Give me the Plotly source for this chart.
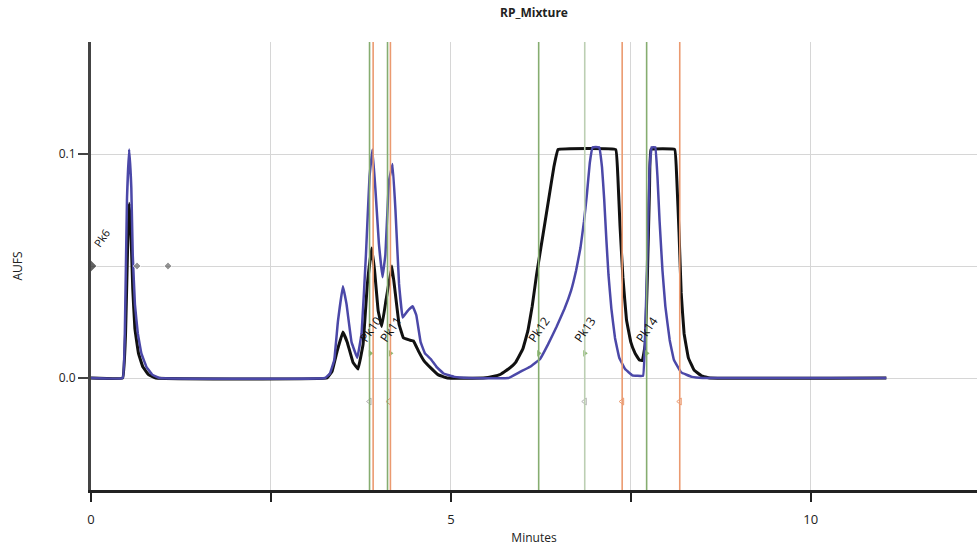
import plotly.graph_objects as go

# Chromatogram traces: retention time (min) vs absorbance (AUFS)
blue_t = [0, 0.44, 0.47, 0.50, 0.53, 0.56, 0.58, 0.61, 0.65, 0.70, 0.77, 0.85, 0.95,
          3.25, 3.32, 3.38, 3.43, 3.50, 3.55, 3.62, 3.70, 3.76, 3.82, 3.87, 3.91, 3.95,
          4.00, 4.05, 4.09, 4.14, 4.19, 4.23, 4.28, 4.33, 4.40, 4.47, 4.52, 4.58, 4.64,
          4.72, 4.80, 4.90, 5.05, 5.25,
          5.80, 5.96, 6.10, 6.24, 6.35, 6.47, 6.58, 6.67, 6.74, 6.80, 6.85, 6.89, 6.93,
          6.97, 7.06, 7.10, 7.13, 7.16, 7.19, 7.23, 7.28, 7.34, 7.42, 7.52, 7.67, 7.70,
          7.73, 7.76, 7.79, 7.84, 7.87, 7.90, 7.94, 7.98, 8.04, 8.10, 8.20, 8.35, 8.5, 11.05]
blue_au = [0, 0, 0.02, 0.08, 0.102, 0.085, 0.055, 0.033, 0.02, 0.011, 0.005, 0.0015, 0,
           0, 0.002, 0.008, 0.025, 0.041, 0.033, 0.016, 0.009, 0.02, 0.055, 0.09, 0.102, 0.085,
           0.06, 0.045, 0.055, 0.088, 0.0955, 0.075, 0.042, 0.027, 0.03, 0.032, 0.028, 0.016, 0.011,
           0.0085, 0.005, 0.002, 0.0005, 0,
           0, 0.0027, 0.005, 0.0085, 0.015, 0.023, 0.031, 0.039, 0.048, 0.058, 0.07, 0.082, 0.096,
           0.103, 0.103, 0.094, 0.08, 0.062, 0.046, 0.031, 0.018, 0.009, 0.004, 0.0012, 0.001, 0.02,
           0.055, 0.093, 0.103, 0.103, 0.09, 0.07, 0.048, 0.032, 0.017, 0.008, 0.0025, 0.0005, 0, 0]

black_t = [0, 0.44, 0.48, 0.51, 0.53, 0.555, 0.58, 0.61, 0.66, 0.72, 0.80, 0.9,
           3.28, 3.35, 3.42, 3.50, 3.56, 3.64, 3.71, 3.78, 3.84, 3.90, 3.94, 3.99, 4.04,
           4.10, 4.18, 4.22, 4.28, 4.34, 4.42, 4.48, 4.55, 4.63, 4.72, 4.82, 4.95,
           5.45, 5.60, 5.68, 5.80, 5.90, 6.00, 6.07, 6.13, 6.19, 6.25, 6.31, 6.37, 6.43,
           6.49, 7.29, 7.32, 7.35, 7.39, 7.44, 7.50, 7.56, 7.62, 7.66, 7.70, 7.73, 7.76,
           7.78, 8.11, 8.14, 8.17, 8.20, 8.24, 8.30, 8.38, 8.48, 8.6, 11.05]
black_au = [0, 0, 0.02, 0.06, 0.078, 0.065, 0.04, 0.022, 0.011, 0.005, 0.0015, 0,
            0, 0.003, 0.012, 0.0205, 0.016, 0.007, 0.004, 0.015, 0.042, 0.058, 0.048, 0.03, 0.023,
            0.035, 0.05, 0.04, 0.024, 0.018, 0.017, 0.0165, 0.012, 0.0075, 0.0045, 0.0015, 0,
            0, 0.0008, 0.0015, 0.004, 0.007, 0.013, 0.021, 0.032, 0.046, 0.058, 0.07, 0.082, 0.094,
            0.102, 0.102, 0.09, 0.068, 0.045, 0.026, 0.016, 0.011, 0.008, 0.0078, 0.015, 0.045, 0.085,
            0.102, 0.102, 0.088, 0.065, 0.038, 0.02, 0.009, 0.0035, 0.001, 0, 0]

# Fraction collection markers (minutes)
frac_start = [3.87, 4.12, 6.22, 7.72]
frac_end = [3.92, 4.16, 7.38, 8.18]
frac_mid = [6.86]

# Peak labels
peak_names = ["Pk10", "Pk11", "Pk12", "Pk13", "Pk14"]
peak_t = [3.88, 4.16, 6.22, 6.86, 7.72]
peak_au = [0.011, 0.011, 0.011, 0.011, 0.011]

start_tick_t = [3.87, 6.86]
end_tick_t = [4.14, 7.38, 8.18]
tick_au = -0.0105

early_pk_name = "Pk6"
early_mark_t = [0.0, 0.64, 1.07]
early_mark_au = [0.05, 0.05, 0.05]

BLUE = "#4b48a8"
GREEN = "#86ad70"
ORANGE = "#eb9a70"
PALE = "#bccfb3"

fig = go.Figure()

for t in frac_start:
    fig.add_vline(x=t, line=dict(color=GREEN, width=1.6))
for t in frac_mid:
    fig.add_vline(x=t, line=dict(color=PALE, width=1.6))
for t in frac_end:
    fig.add_vline(x=t, line=dict(color=ORANGE, width=1.6))

fig.add_trace(go.Scatter(x=black_t, y=black_au, mode="lines",
                         line=dict(color="#111111", width=3, shape="spline", smoothing=0.2),
                         showlegend=False))
fig.add_trace(go.Scatter(x=blue_t, y=blue_au, mode="lines",
                         line=dict(color=BLUE, width=2.5, shape="spline", smoothing=0.2),
                         showlegend=False))

fig.add_trace(go.Scatter(x=peak_t, y=peak_au, mode="markers",
                         marker=dict(symbol="triangle-right", size=6, color="#8ab86e"),
                         showlegend=False))
fig.add_trace(go.Scatter(x=start_tick_t, y=[tick_au] * len(start_tick_t), mode="markers",
                         marker=dict(symbol="triangle-left-open", size=6, color="#b0b0b0"),
                         showlegend=False))
fig.add_trace(go.Scatter(x=end_tick_t, y=[tick_au] * len(end_tick_t), mode="markers",
                         marker=dict(symbol="triangle-left-open", size=6, color=ORANGE),
                         showlegend=False))
fig.add_trace(go.Scatter(x=early_mark_t, y=early_mark_au, mode="markers",
                         marker=dict(symbol="diamond", size=[9, 6, 6],
                                     color=["#222222", "#666666", "#666666"]),
                         showlegend=False))

for name, t, a in zip(peak_names, peak_t, peak_au):
    fig.add_annotation(x=t, y=a, text=name, showarrow=False, textangle=-55,
                       xanchor="center", yanchor="middle", yshift=24,
                       font=dict(family="Open Sans", size=12, color="#111111"))
fig.add_annotation(x=0.0, y=0.05, text=early_pk_name, showarrow=False, textangle=-55,
                   xanchor="center", yanchor="middle", xshift=10, yshift=28,
                   font=dict(family="Open Sans", size=11, color="#111111"))

fig.update_layout(
    width=977, height=548,
    margin=dict(l=91, r=0, t=42, b=58),
    paper_bgcolor="white", plot_bgcolor="white",
    title=dict(text="<b>RP_Mixture</b>", x=0.5, xref="paper", y=0.985, yanchor="top",
               font=dict(family="Open Sans", size=12, color="#222222")),
    font=dict(family="Open Sans", size=12, color="#222222"),
)
fig.update_xaxes(range=[0, 12.31], tickvals=[0, 2.5, 5, 7.5, 10],
                 ticktext=["0", "", "5", "", "10"],
                 showgrid=True, gridcolor="#d6d6d6", gridwidth=1,
                 showline=True, linecolor="#222222", linewidth=3,
                 ticks="outside", ticklen=9, tickwidth=1.5, tickcolor="#222222",
                 ticklabelstandoff=6,
                 zeroline=False,
                 title=dict(text="Minutes", standoff=8, font=dict(size=12)),
                 tickfont=dict(size=13))
fig.update_yaxes(range=[-0.05, 0.15], tickvals=[0, 0.1],
                 ticktext=["0.0", "0.1"],
                 showgrid=True, gridcolor="#d6d6d6", gridwidth=1,
                 minor=dict(tickvals=[-0.05, 0.05, 0.15], showgrid=True,
                            gridcolor="#d6d6d6", gridwidth=1, ticks=""),
                 showline=True, linecolor="#444444", linewidth=3,
                 ticks="outside", ticklen=10, tickwidth=1.5, tickcolor="#444444",
                 zeroline=False,
                 title=dict(text="AUFS", standoff=34, font=dict(size=12)),
                 tickfont=dict(size=12))

fig.write_html("out.html")
